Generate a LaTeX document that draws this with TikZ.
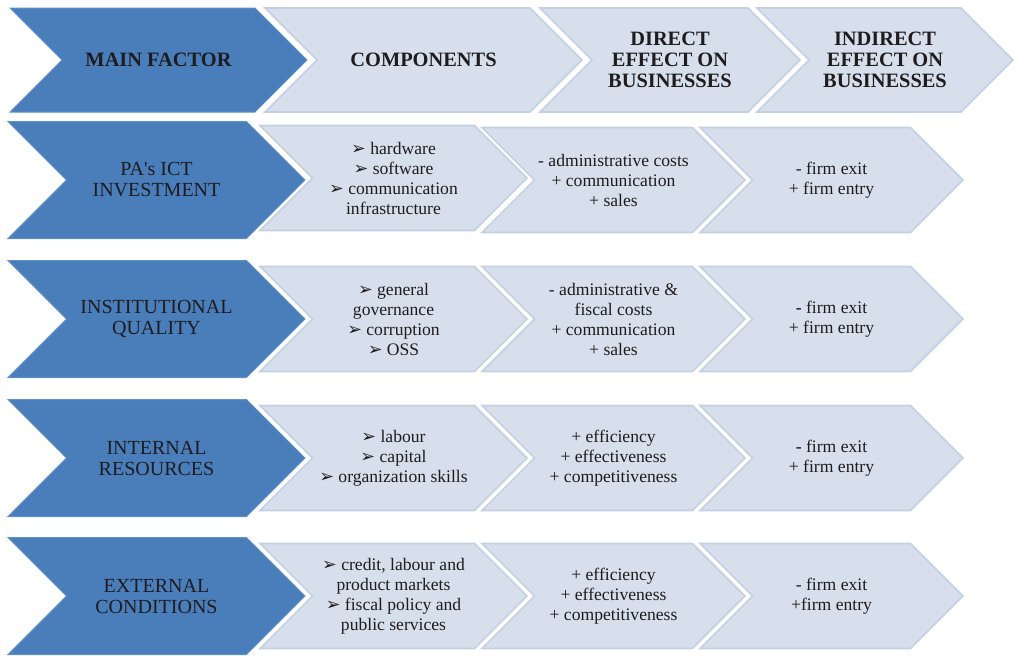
\documentclass[tikz,border=0pt]{standalone}
\usepackage{fontspec}
\setmainfont{Liberation Serif}
\newfontfamily\arrowfont{DejaVu Sans}
\usetikzlibrary{shapes.symbols}

\definecolor{factorblue}{RGB}{74, 126, 187}
\definecolor{factoredge}{RGB}{96, 144, 200}
\definecolor{stepfill}{RGB}{214, 223, 235}
\definecolor{stepedge}{RGB}{196, 208, 226}
\definecolor{inkgrey}{RGB}{30, 28, 30}

% bullet arrowhead used in the components column
\newcommand{\arrowbul}{{\arrowfont\scalebox{1.0}{➢}}\ }

\begin{document}
\begin{tikzpicture}[x=0.5pt, y=-0.5pt,
  chev/.style={shape=signal, signal to=east, signal from=west, signal pointer angle=90,
    inner sep=0pt, outer sep=0pt, align=center, text=inkgrey},
  factor/.style={chev, fill=factorblue, draw=factoredge, line width=0.5pt,
    minimum width=148.5pt, minimum height=58.5pt, font=\fontsize{10}{10.5}\selectfont},
  effect/.style={chev, fill=stepfill, draw=stepedge, line width=0.8pt,
    minimum height=52.5pt, font=\fontsize{8.8}{10}\selectfont},
  head/.style={minimum height=52pt, font=\bfseries\fontsize{10.2}{10.5}\selectfont},
]
  \useasboundingbox (0,0) rectangle (1016,655);

  % header row
  \node[factor, head, minimum width=148.5pt] (hmain) at (158.5,60) {MAIN FACTOR};
  \node[effect, head, minimum width=158.5pt] (hcomp) at (423.5,60) {COMPONENTS};
  \node[effect, head, minimum width=130pt] (hdir) at (670,60) {DIRECT\\EFFECT ON\\BUSINESSES};
  \node[effect, head, minimum width=128pt] (hind) at (885,60) {INDIRECT\\EFFECT ON\\BUSINESSES};

  % PA's ICT investment
  \node[factor] (ict) at (156.5,180) {PA\textquotesingle s ICT\\INVESTMENT};
  \node[effect, minimum width=133.5pt] (ictcomp) at (393.5,178)
    {\arrowbul hardware\\\arrowbul software\\\arrowbul communication\\infrastructure};
  \node[effect, minimum width=131.5pt] (ictdir) at (613.5,180)
    {- administrative costs\\+ communication\\+ sales};
  \node[effect, minimum width=131.5pt] (ictind) at (831.5,180)
    {- firm exit\\+ firm entry};

  % institutional quality
  \node[factor] (inst) at (156.5,319) {INSTITUTIONAL\\QUALITY};
  \node[effect, minimum width=133.5pt] (instcomp) at (393.5,319)
    {\arrowbul general\\governance\\\arrowbul corruption\\\arrowbul OSS};
  \node[effect, minimum width=131.5pt] (instdir) at (613.5,319)
    {- administrative \&\\fiscal costs\\+ communication\\+ sales};
  \node[effect, minimum width=131.5pt] (instind) at (831.5,319)
    {\textbf{-} firm exit\\+ firm entry};

  % internal resources
  \node[factor] (intres) at (156.5,458) {INTERNAL\\RESOURCES};
  \node[effect, minimum width=133.5pt] (intcomp) at (393.5,458)
    {\arrowbul labour\\\arrowbul capital\\\arrowbul organization skills};
  \node[effect, minimum width=131.5pt] (intdir) at (613.5,458)
    {+ efficiency\\+ effectiveness\\+ competitiveness};
  \node[effect, minimum width=131.5pt] (intind) at (831.5,458)
    {\textbf{-} firm exit\\+ firm entry};

  % external conditions
  \node[factor] (extcond) at (156.5,596) {EXTERNAL\\CONDITIONS};
  \node[effect, minimum width=133.5pt] (extcomp) at (393.5,596)
    {\arrowbul credit, labour and\\product markets\\\arrowbul fiscal policy and\\public services};
  \node[effect, minimum width=131.5pt] (extdir) at (613.5,596)
    {+ efficiency\\+ effectiveness\\+ competitiveness};
  \node[effect, minimum width=131.5pt] (extind) at (831.5,596)
    {- firm exit\\+firm entry};
\end{tikzpicture}
\end{document}
